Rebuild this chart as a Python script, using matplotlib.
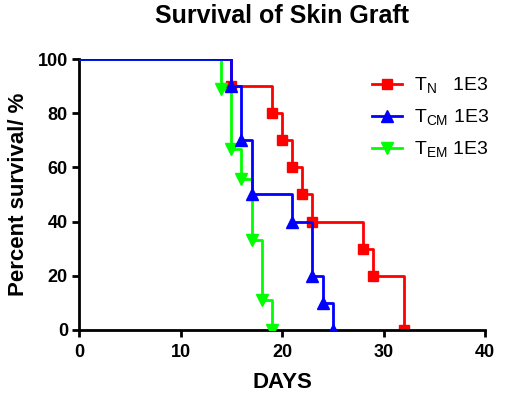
import matplotlib
matplotlib.use("Agg")
import matplotlib.pyplot as plt

plt.rcParams['font.family'] = ['Liberation Sans', 'DejaVu Sans']
plt.rcParams['mathtext.fontset'] = 'custom'
plt.rcParams['mathtext.rm'] = 'Liberation Sans'

# Kaplan-Meier steps: event days and survival after each event
tn_days = [0, 15, 19, 20, 21, 22, 23, 28, 29, 32]
tn_surv = [100, 90, 80, 70, 60, 50, 40, 30, 20, 0]
tcm_days = [0, 15, 16, 17, 21, 23, 24, 25]
tcm_surv = [100, 90, 70, 50, 40, 20, 10, 0]
tem_days = [0, 14, 15, 16, 17, 18, 19]
tem_surv = [100, 88.9, 66.7, 55.6, 33.3, 11.1, 0]

series = [
    (tn_days, tn_surv, 'red', 's', 7, 2, r'T$_\mathregular{N}$   1E3'),
    (tem_days, tem_surv, '#00ff00', 'v', 8, 3, r'T$_\mathregular{EM}$ 1E3'),
    (tcm_days, tcm_surv, 'blue', '^', 8, 4, r'T$_\mathregular{CM}$ 1E3'),
]

fig = plt.figure(figsize=(5.1, 3.96), dpi=100)
ax = fig.add_axes([0.155, 0.167, 0.796, 0.684])

handles = {}
for days, surv, col, mk, ms, z, lab in series:
    ax.step(days, surv, where='post', color=col, lw=2, zorder=z)
    ax.plot(days[1:], surv[1:], ls='none', marker=mk, color=col, ms=ms, zorder=z)
    h, = ax.plot([], [], color=col, lw=2, marker=mk, ms=ms)
    handles[lab] = h

order = [series[0][6], series[2][6], series[1][6]]

ax.set_xlim(0, 40)
ax.set_ylim(0, 100)
ax.set_xticks([0, 10, 20, 30, 40])
ax.set_yticks([0, 20, 40, 60, 80, 100])
for s in ['top', 'right']:
    ax.spines[s].set_visible(False)
for s in ['left', 'bottom']:
    ax.spines[s].set_linewidth(2)
ax.tick_params(width=2, length=5, labelsize=13, pad=3)
ax.tick_params(axis='x', pad=5)
for t in ax.get_xticklabels() + ax.get_yticklabels():
    t.set_fontweight('bold')
ax.set_title('Survival of Skin Graft', fontsize=18, fontweight='bold', pad=26)
ax.set_xlabel('DAYS', fontsize=16, fontweight='bold', labelpad=8)
ax.set_ylabel('Percent survival/ %', fontsize=16, fontweight='bold', labelpad=6.5)
fig.legend([handles[k] for k in order], order, loc='upper left',
           bbox_to_anchor=(372 / 510, 1 - 76 / 396), frameon=False,
           fontsize=14, handlelength=1.55, handletextpad=0.6,
           labelspacing=0.6, borderpad=0, borderaxespad=0)

fig.savefig('out.png', dpi=100)
